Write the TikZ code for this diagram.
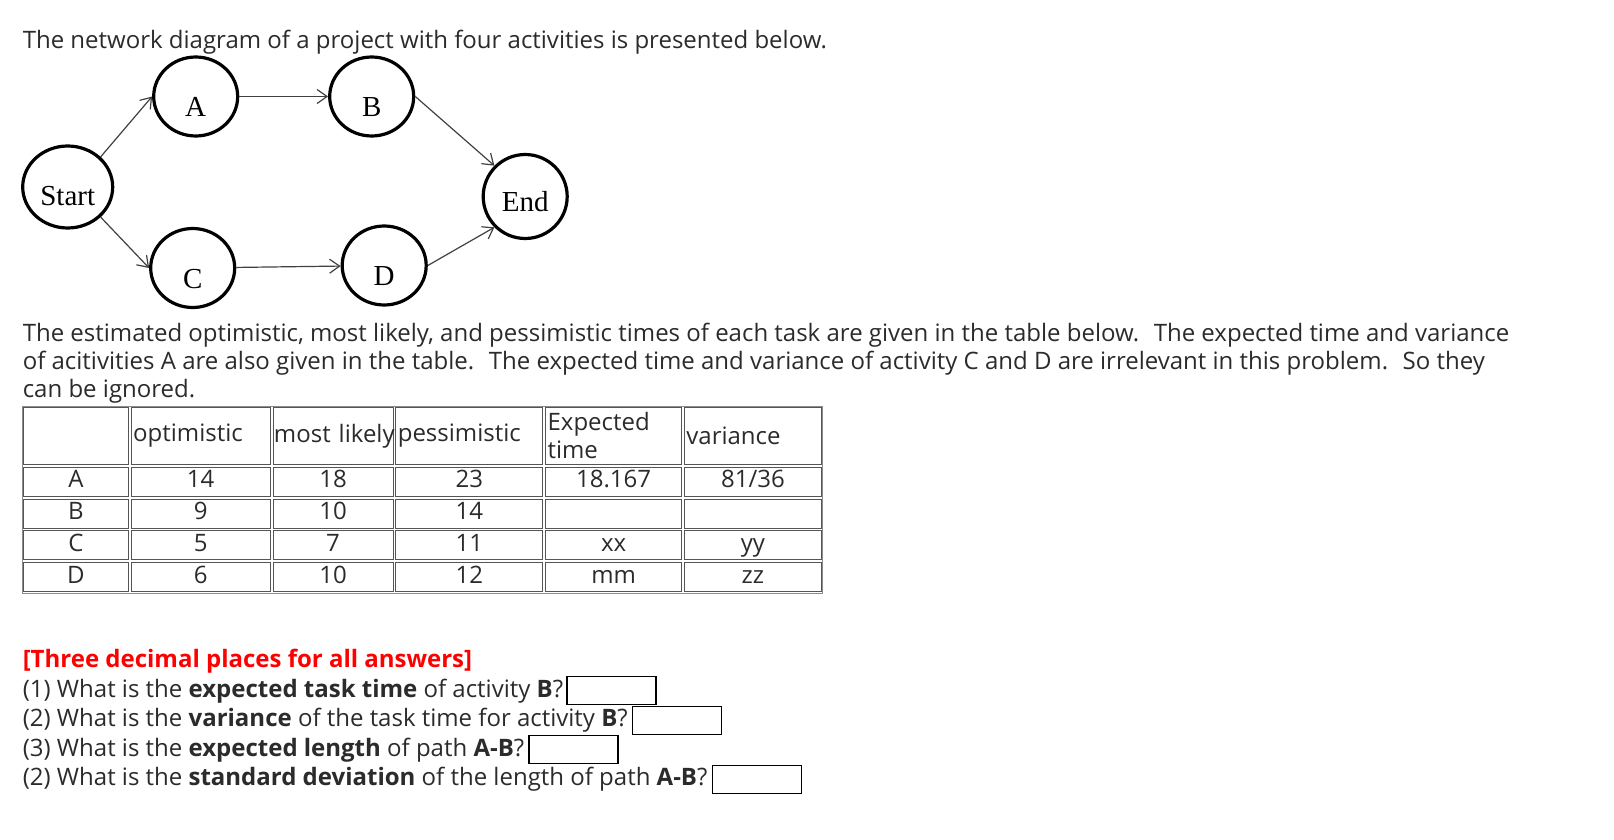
\documentclass[tikz,border=0pt]{standalone}
\usepackage{fontspec}
\setmainfont{Open Sans}
\newfontfamily\timesfont{Liberation Serif}
\usepackage{xcolor}
\usetikzlibrary{arrows.meta,positioning,shapes.geometric,matrix}

\definecolor{textgray}{HTML}{2B2B2B}
\definecolor{arrgray}{HTML}{404040}
\definecolor{cellgray}{HTML}{555555}
\definecolor{tabgray}{HTML}{8C8C8C}
\definecolor{notered}{HTML}{FF0000}

\begin{document}
\begin{tikzpicture}[
  x=1pt, y=1pt,
  font=\fontsize{24}{28}\selectfont,
  text=textgray,
  act/.style={ellipse, draw=black, line width=3.2pt, minimum width=84pt, minimum height=79pt, inner sep=0pt, text=black, font=\timesfont\fontsize{29}{31}\selectfont, text height=40pt, text depth=0pt},
  arr/.style={-{Straight Barb[length=10pt,width=14pt]}, line width=1.2pt, draw=arrgray},
  txtline/.style={anchor=base west, inner sep=0pt},
  ansbox/.style={draw=black, line width=1.2pt, minimum width=89pt, minimum height=28pt, inner sep=0pt}
]
\useasboundingbox (0,0) rectangle (1614,-840);

\node[txtline] (intro) at (22.6,-48.3) {The network diagram of a project with four activities is presented below.};

% network of activities
\begin{scope}[on grid]
\node[act, minimum width=90pt, minimum height=82pt, text height=36pt] (start) at (67.7,-187) {Start};
\node[act, above right=90.5pt and 128pt of start] (actA) {A};
\node[act, right=176pt of actA] (actB) {B};
\node[act, below right=81pt and 125pt of start] (actC) {C};
\node[act, right=191.5pt of actC, yshift=2.5pt] (actD) {D};
\node[act, minimum height=84pt, text height=30pt, below right=100pt and 153.5pt of actB] (finish) {End};
\end{scope}

\draw[arr] (start.north east) -- (actA.west);
\draw[arr] (start.south east) -- (actC.west);
\draw[arr] (actA) -- (actB);
\draw[arr] (actC) -- (actD);
\draw[arr] (actB.east) -- (finish.north west);
\draw[arr] (actD.east) -- (finish.south west);

\node[txtline] (par1) at (22.6,-341.5) {The estimated optimistic, most likely, and pessimistic times of each task are given in the table below.~ The expected time and variance};
\node[txtline] (par2) at ([yshift=-27.8pt]par1.base west) {of acitivities A are also given in the table.~ The expected time and variance of activity C and D are irrelevant in this problem.~ So they};
\node[txtline] (par3) at ([yshift=-27.8pt]par2.base west) {can be ignored.};

% three time estimates
\matrix (pert) [matrix of nodes, nodes in empty cells, matrix anchor=north west, outer sep=0pt,
  draw=tabgray, line width=1pt, inner sep=1pt, column sep=2pt, row sep=2pt,
  nodes={draw=cellgray, line width=0.8pt, anchor=center, inner xsep=2pt, inner ysep=0pt, outer sep=0pt,
         minimum height=29pt, text height=17pt, text depth=5pt, align=center},
  row 1/.style={nodes={minimum height=57pt, text height={}, text depth={}, align=left}},
  column 1/.style={nodes={text width=101pt}},
  column 2/.style={nodes={text width=135pt}},
  column 3/.style={nodes={text width=116pt}},
  column 4/.style={nodes={text width=143pt}},
  column 5/.style={nodes={text width=132pt}},
  column 6/.style={nodes={text width=133pt}}
] at (22,-406) {
    & optimistic & |[inner xsep=1pt, text width=118pt]| most~likely & pessimistic & {Expected\\time} & variance \\
  A & 14 & 18 & 23 & 18.167 & 81/36 \\
  B & 9  & 10 & 14 &        &       \\
  C & 5  & 7  & 11 & xx     & yy    \\
  D & 6  & 10 & 12 & mm     & zz    \\
};

\node[txtline, text=notered] (note) at (22.6,-667.3) {\textbf{[Three decimal places for all answers]}};
\node[txtline] (q1) at (22.6,-697) {(1) What is the \textbf{expected task time} of activity \textbf{B}?};
\node[txtline] (q2) at ([yshift=-29.5pt]q1.base west) {(2) What is the \textbf{variance} of the task time for activity \textbf{B}?};
\node[txtline] (q3) at ([yshift=-29.5pt]q2.base west) {(3) What is the \textbf{expected length} of path \textbf{A-B}?};
\node[txtline] (q4) at ([yshift=-29.5pt]q3.base west) {(2) What is the \textbf{standard deviation} of the length of path \textbf{A-B}?};
\node[ansbox, right=3pt of q1] (ans1) {};
\node[ansbox, right=4pt of q2] (ans2) {};
\node[ansbox, right=4pt of q3] (ans3) {};
\node[ansbox, right=4pt of q4] (ans4) {};
\end{tikzpicture}
\end{document}
